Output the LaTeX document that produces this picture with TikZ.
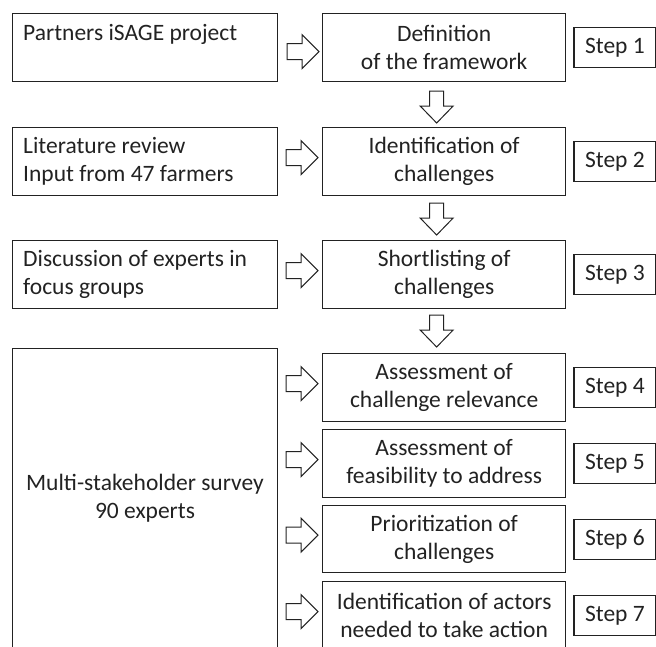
\documentclass[tikz,border=0pt]{standalone}
\usepackage{fontspec}
\setmainfont{Carlito}
\usetikzlibrary{calc}
\definecolor{ink}{HTML}{222222}
\tikzset{
  box/.style={draw=ink, line width=1.3pt, inner sep=0pt, anchor=north west},
  lbox/.style={box, minimum width=265pt, minimum height=68pt},
  mbox/.style={box, minimum width=243pt, minimum height=68pt, align=center,
    font=\fontsize{23.5}{28}\selectfont, text=ink},
  sbox/.style={draw=ink, line width=1.3pt, inner sep=0pt, minimum width=82pt,
    minimum height=40pt, font=\fontsize{23.5}{28}\selectfont, text=ink},
  ltext/.style={anchor=north west, inner sep=0pt, align=left,
    font=\fontsize{23.5}{28}\selectfont, text=ink},
  blockline/.style={draw=ink, line width=1pt, fill=white, line join=miter},
  pics/rblock/.style={code={\path[blockline] (-32,-8) -- (-17,-8) -- (-17,-17) -- (0,0)
      -- (-17,17) -- (-17,8) -- (-32,8) -- cycle;}},
  pics/dblock/.style={code={\path[blockline] (-7,-32) -- (7,-32) -- (7,-17) -- (16.5,-17)
      -- (0,0) -- (-16.5,-17) -- (-7,-17) -- cycle;}},
}
\begin{document}
\begin{tikzpicture}[x=1pt,y=-1pt]
\useasboundingbox (0,0) rectangle (656,646);
\clip (0,0) rectangle (656,646);
% left boxes
\node[lbox] (l1) at (12,13) {};
\node[lbox] (l2) at (12,127) {};
\node[lbox] (l3) at (12,240) {};
\node[lbox, minimum height=302pt] (l4) at (12,348) {};
\node[ltext] (lt1) at ($(l1.north west)+(11,11)$) {Partners iSAGE project};
\node[ltext] (lt2) at ($(l2.north west)+(11,10)$) {Literature review\\Input from 47 farmers};
\node[ltext] (lt3) at ($(l3.north west)+(11,10)$) {Discussion of experts in\\focus groups};
\node[align=center, inner sep=0pt, font=\fontsize{23.5}{28}\selectfont, text=ink] (lt4)
  at (145,498) {Multi-stakeholder survey\\90 experts};
% middle boxes
\node[mbox] (m1) at (322,13) {Definition\\of the framework};
\node[mbox] (m2) at (322,127) {Identification of\\challenges};
\node[mbox] (m3) at (322,240) {Shortlisting of\\challenges};
\node[mbox] (m4) at (322,353) {Assessment of\\challenge relevance};
\node[mbox] (m5) at (322,429) {Assessment of\\feasibility to address};
\node[mbox, minimum height=67pt] (m6) at (322,505) {Prioritization of\\challenges};
\node[mbox] (m7) at (322,581) {Identification of actors\\needed to take action};
% step boxes
\foreach \i in {1,...,7}{
  \node[sbox, anchor=west] (s\i) at ($(m\i.east)+(7,0)$) {Step \i};
}
% right block arrows
\pic at ($(m1.west)+(-3,4)$) {rblock};
\foreach \i in {2,...,7}{
  \pic at ($(m\i.west)+(-4,-4)$) {rblock};
}
% down block arrows
\pic at ($(m2.north)+(-7.5,-4)$) {dblock};
\pic at ($(m3.north)+(-7.5,-5)$) {dblock};
\pic at ($(m4.north)+(-7.5,-6)$) {dblock};
\end{tikzpicture}
\end{document}
